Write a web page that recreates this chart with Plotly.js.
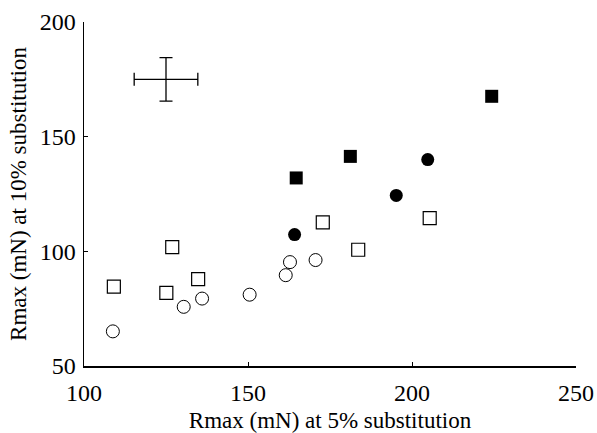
<!DOCTYPE html>
<html>
<head>
<meta charset="utf-8">
<script src="https://cdn.plot.ly/plotly-3.0.1.min.js"></script>
<style>html,body{margin:0;padding:0;background:#fff}#chart{width:597px;height:433px}</style>
</head>
<body>
<div id="chart"></div>
<script>
// Filled squares
const filledSqX = [224.3, 181.2, 164.7];
const filledSqY = [167.6, 141.4, 132.0];
// Filled circles
const filledCirX = [204.8, 195.2, 164.2];
const filledCirY = [140.0, 124.4, 107.3];
// Open squares
const openSqX = [172.8, 205.4, 183.6, 109.1, 126.9, 125.1, 134.8];
const openSqY = [112.6, 114.5, 100.7, 84.6, 101.8, 81.9, 87.9];
// Open circles
const openCirX = [108.8, 130.4, 136.0, 150.5, 161.5, 162.8, 170.6];
const openCirY = [65.1, 75.8, 79.4, 81.1, 89.6, 95.3, 96.2];
// Representative error bar
const errX = [125];
const errY = [175];
const errXSize = [9.7];
const errYSize = [9.5];

const xTicks = [100, 150, 200, 250];
const yTicks = [50, 100, 150, 200];

const serif = "Liberation Serif, Times New Roman, serif";

const traces = [
  {x: errX, y: errY, type: 'scatter', mode: 'markers', marker: {size: 0.1, color: 'rgba(0,0,0,0)'},
   error_x: {type: 'data', array: errXSize, visible: true, color: '#000', thickness: 1.3, width: 6.5},
   error_y: {type: 'data', array: errYSize, visible: true, color: '#000', thickness: 1.3, width: 6.5},
   hoverinfo: 'skip'},
  {x: openCirX, y: openCirY, type: 'scatter', mode: 'markers',
   marker: {symbol: 'circle-open', size: 13, color: '#000', line: {width: 1}}},
  {x: openSqX, y: openSqY, type: 'scatter', mode: 'markers',
   marker: {symbol: 'square-open', size: 13, color: '#000', line: {width: 1.2}}},
  {x: filledCirX, y: filledCirY, type: 'scatter', mode: 'markers',
   marker: {symbol: 'circle', size: 13, color: '#000'}},
  {x: filledSqX, y: filledSqY, type: 'scatter', mode: 'markers',
   marker: {symbol: 'square', size: 13, color: '#000'}}
];

const layout = {
  width: 597, height: 433,
  margin: {l: 84, r: 21, t: 22, b: 67},
  paper_bgcolor: '#fff', plot_bgcolor: '#fff',
  showlegend: false,
  font: {family: serif, color: '#000', size: 24},
  xaxis: {
    range: [100, 250], tickvals: xTicks, ticktext: xTicks.map(String),
    showgrid: false, zeroline: false, showline: true, linecolor: '#000', linewidth: 1.5,
    ticks: 'inside', ticklen: 4, tickcolor: '#000', tickwidth: 1,
    ticklabelstandoff: 5,
    tickfont: {family: serif, size: 24, color: '#000'},
    title: {text: 'Rmax (mN) at 5% substitution', font: {family: serif, size: 23, color: '#000'}, standoff: 6}
  },
  yaxis: {
    range: [50, 200], tickvals: yTicks, ticktext: yTicks.map(String),
    showgrid: false, zeroline: false, showline: true, linecolor: '#000', linewidth: 1.5,
    ticks: 'inside', ticklen: 4, tickcolor: '#000', tickwidth: 1,
    ticklabelstandoff: 2,
    tickfont: {family: serif, size: 24, color: '#000'},
    title: {text: 'Rmax (mN) at 10% substitution', font: {family: serif, size: 23, color: '#000'}, standoff: 6}
  }
};

Plotly.newPlot('chart', traces, layout, {staticPlot: true, displayModeBar: false});
</script>
</body>
</html>
